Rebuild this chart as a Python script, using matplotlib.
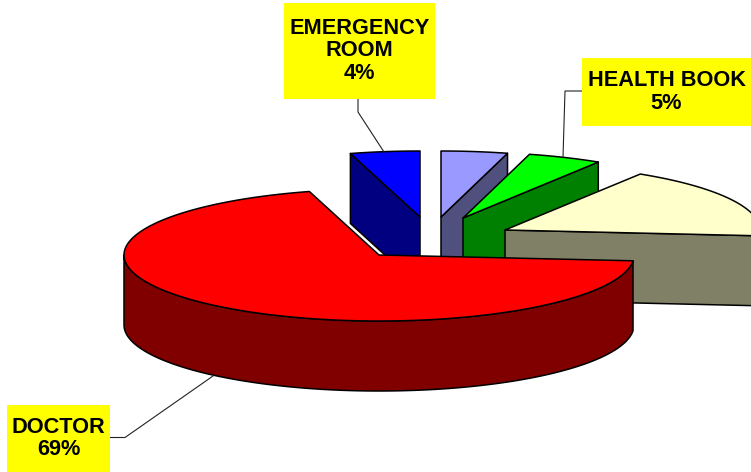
import numpy as np
import matplotlib
matplotlib.use("Agg")
import matplotlib.pyplot as plt
from matplotlib.patches import Polygon, Rectangle

# ---- data (counter-clockwise from the 12 o'clock boundary) ----
categories = ["EMERGENCY\nROOM", "DOCTOR", "OTHER", "HEALTH BOOK", "OTHER 2"]
values = [4.4, 69.2, 17.5, 4.7, 4.2]
shown_labels = ["4%", "69%", None, "5%", None]

# ---- style / layout ----
top_colors = ["#0000FF", "#FF0000", "#FFFFCC", "#00FF00", "#9999FF"]
side_colors = ["#000080", "#800000", "#808066", "#008000", "#50507F"]
explode = [(41, -38), (0, 0), (126, -25), (84, -37), (62, -38)]
paint_order = [0, 4, 3, 2, 1]
START_ANGLE = 90.0
CENTER = (379.0, 255.0)
RX, RY, DEPTH = 255.0, 66.0, 70.0
label_boxes = {0: (284, 3, 151, 96), 3: (582, 58, 169, 68), 1: (7, 405, 103, 67)}
leaders = {
    0: ([358, 358, 384], [99, 112, 152]),
    3: ([582, 565, 563], [91, 91, 157]),
    1: ([110, 125, 213], [437.5, 437.5, 376]),
}

plt.rcParams["font.family"] = ["Liberation Sans", "DejaVu Sans"]
fig = plt.figure(figsize=(7.51, 4.72), dpi=100)
ax = fig.add_axes([0, 0, 1, 1])
ax.set_xlim(0, 751)
ax.set_ylim(472, 0)
ax.axis("off")


def pt(t, cx, cy, dz=0.0):
    t = np.radians(t)
    return cx + RX * np.cos(t), cy - RY * np.sin(t) + dz


def poly(xs, ys, color):
    ax.add_patch(Polygon(np.column_stack([xs, ys]), closed=True, facecolor=color,
                         edgecolor="black", linewidth=1.1, joinstyle="round"))


fractions = np.array(values) / sum(values) * 360.0
# Angles run counter-clockwise from START_ANGLE
starts = START_ANGLE + np.concatenate([[0], np.cumsum(fractions)[:-1]])
ends = starts + fractions

for i in paint_order:
    t0, t1 = starts[i], ends[i]
    cx, cy = CENTER[0] + explode[i][0], CENTER[1] + explode[i][1]
    # visible cut faces
    for ang, visible in ((t1, np.cos(np.radians(t1)) < -1e-6), (t0, np.cos(np.radians(t0)) > 1e-6)):
        if visible:
            ex, ey = pt(ang, cx, cy)
            poly([cx, ex, ex, cx], [cy, ey, ey + DEPTH, cy + DEPTH], side_colors[i])
    # outer wall: the part of the arc facing the viewer
    lo, hi = max(t0, 180.0), min(t1, 360.0)
    if hi > lo:
        ts = np.linspace(lo, hi, 160)
        xs, ys = pt(ts, cx, cy)
        poly(np.r_[xs, xs[::-1]], np.r_[ys, (ys + DEPTH)[::-1]], side_colors[i])
    # top surface
    ts = np.linspace(t0, t1, 200)
    xs, ys = pt(ts, cx, cy)
    poly(np.r_[cx, xs], np.r_[cy, ys], top_colors[i])

# leader lines
for i, (lx, ly) in leaders.items():
    ax.plot(lx, ly, color="#222222", linewidth=0.8, solid_joinstyle="miter", zorder=5)

# labels
for i, (x, y, w, h) in label_boxes.items():
    ax.add_patch(Rectangle((x, y), w, h, facecolor="#FFFF00", edgecolor="none", zorder=6))
    ax.text(x + w / 2, y + h / 2, f"{categories[i]}\n{shown_labels[i]}", ha="center",
            va="center", fontsize=15.7, fontweight="bold", color="black",
            linespacing=1.12, zorder=7, clip_on=False)

fig.savefig("out.png", dpi=100, facecolor="white")
